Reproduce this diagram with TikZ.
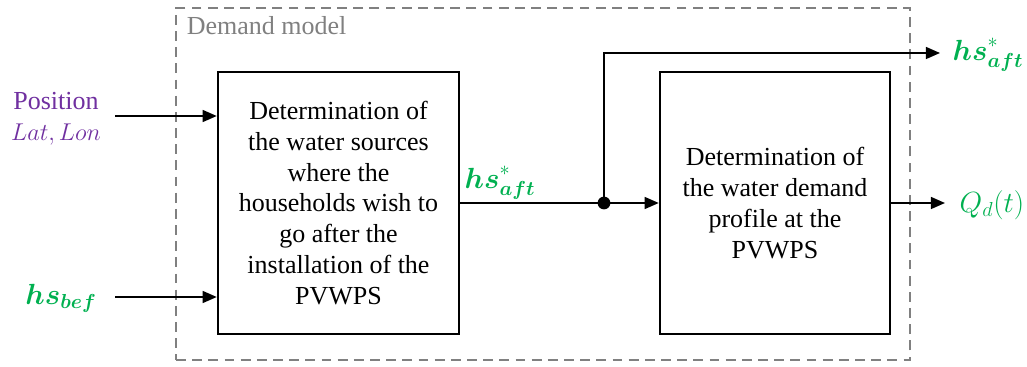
\documentclass[tikz,border=0pt]{standalone}
\usepackage{amsmath}
\usepackage{fontspec}
\setmainfont{Liberation Serif}
\usetikzlibrary{arrows.meta,positioning}
\definecolor{posviolet}{RGB}{112,48,160}
\definecolor{hsgreen}{RGB}{0,176,80}
\definecolor{framegray}{RGB}{128,128,128}
\newcommand{\hsaft}{$\boldsymbol{hs}^{*}_{\boldsymbol{aft}}$}
\begin{document}
\begin{tikzpicture}[line width = 1.1pt, font = \fontsize{18.5}{22}\selectfont,
    >={Triangle[length = 10pt, width = 8.5pt]},
    blockbox/.style = {draw, line width = 1.8pt, align = center,
                       inner sep = 0pt, minimum height = 6.55cm},
    varlabel/.style = {inner sep = 0pt, font = \fontsize{20}{22}\selectfont}]
      \useasboundingbox (0,0) rectangle (25.675,9.175);
      % dashed frame of the model
      \node [draw = framegray, line width = 1.4pt,
             dash pattern = on 7pt off 4.5pt,
             minimum width = 18.35cm, minimum height = 8.8cm, inner sep = 0pt]
        (demframe) at (13.575,4.575) {};
      \node [framegray, anchor = base west, inner sep = 0pt]
        (demtitle) at (4.65,8.3) {Demand model};
      % the two blocks
      \node [blockbox, minimum width = 6.025cm] (srcbox) at (8.4625,4.1)
        {Determination of\\the water sources\\where the\\households wish to\\
         go after the\\installation of the\\PVWPS};
      \node [blockbox, minimum width = 5.75cm] (dembox) at (19.375,4.1)
        {Determination of\\the water demand\\profile at the\\PVWPS};
      % inputs
      \coordinate (posstart) at (2.875,6.275);
      \coordinate (befstart) at (2.875,1.75);
      \node [posviolet, align = center, inner sep = 0pt] (posin) at (1.4,6.2)
        {Position\\$Lat, Lon$};
      \node [hsgreen, varlabel] (hsbef) at (1.525,1.72)
        {$\boldsymbol{hs}_{\boldsymbol{bef}}$};
      \draw [->] (posstart) -- (posstart -| srcbox.west);
      \draw [->] (befstart) -- (befstart -| srcbox.west);
      % link between the blocks
      \coordinate (junc) at (15.1,4.1);
      \node [hsgreen, varlabel] (hsmid) at (12.5,4.6) {\hsaft};
      \draw (srcbox.east) -- (junc);
      \draw [->] (junc) -- (dembox.west);
      \fill (junc) circle (0.16cm);
      % outputs
      \coordinate (topend) at (23.5,7.85);
      \coordinate (qend) at (23.625,4.1);
      \node [hsgreen, varlabel] (hsout) at (24.7,7.8) {\hsaft};
      \node [hsgreen, varlabel] (qout) at (24.8,4.05) {$Q_d(t)$};
      \draw [->] (junc) |- (topend);
      \draw [->] (dembox.east) -- (qend);
    \end{tikzpicture}
\end{document}
